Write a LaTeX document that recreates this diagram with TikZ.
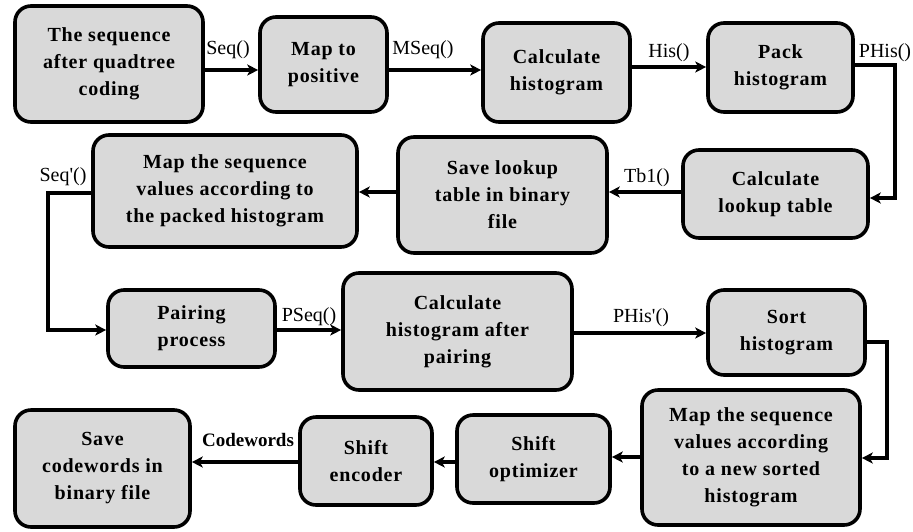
\documentclass[tikz,border=0pt]{standalone}
\usepackage{fontspec}
\setmainfont{Liberation Serif}
\newfontfamily\boxfont[LetterSpace=4,BoldFont={Liberation Serif Bold}]{Liberation Serif}
\usetikzlibrary{arrows.meta}
\definecolor{boxgray}{RGB}{217,217,217}
\begin{document}
\begin{tikzpicture}[x=1pt,y=-1pt,
  blk/.style={draw, line width=3.6pt, fill=boxgray, rounded corners=16pt, align=center,
    font=\boxfont\bfseries\fontsize{20}{27}\selectfont, inner sep=0pt},
  arr/.style={line width=3.2pt, -{Stealth[length=11pt,width=11pt,inset=3pt]}},
  lbl/.style={font=\fontsize{20}{22}\selectfont, inner sep=0pt}]
\path[use as bounding box] (0,0) rectangle (913,531);
% boxes
\node[blk, minimum width=188pt, minimum height=116pt] (b1) at (109,64) {The sequence\\after quadtree\\coding};
\node[blk, minimum width=127pt, minimum height=95pt] (b2) at (323.5,64.5) {Map to\\positive};
\node[blk, minimum width=147pt, minimum height=99pt] (b3) at (556.5,72.5) {Calculate\\histogram};
\node[blk, minimum width=145pt, minimum height=89pt] (b4) at (780.5,67.5) {Pack\\histogram};
\node[blk, minimum width=185pt, minimum height=88pt] (b5) at (775.5,194) {Calculate\\lookup table};
\node[blk, minimum width=209pt, minimum height=116pt] (b6) at (502.5,195) {Save lookup\\table in binary\\file};
\node[blk, minimum width=264pt, minimum height=112pt] (b7) at (225,191) {Map the sequence\\values according to\\the packed histogram};
\node[blk, minimum width=167pt, minimum height=77pt] (b8) at (191.5,328.5) {Pairing\\process};
\node[blk, minimum width=229pt, minimum height=117pt] (b9) at (457.5,331.5) {Calculate\\histogram after\\pairing};
\node[blk, minimum width=157pt, minimum height=85pt] (b10) at (786.5,332.5) {Sort\\histogram};
\node[blk, minimum width=218pt, minimum height=135pt] (b11) at (751,457.5) {Map the sequence\\values according\\to a new sorted\\histogram};
\node[blk, minimum width=153pt, minimum height=88pt] (b12) at (533.5,459) {Shift\\optimizer};
\node[blk, minimum width=132pt, minimum height=88pt] (b13) at (366,461) {Shift\\encoder};
\node[blk, minimum width=175pt, minimum height=117pt] (b14) at (102.5,468.5) {Save\\codewords in\\binary file};
% turning points
\coordinate (r1) at (895,198);
\coordinate (l1) at (48,330);
\coordinate (r2) at (887,458);
% connectors
\draw[arr] (b1.east |- 0,70) -- (b2.west |- 0,70);
\draw[arr] (b2.east |- 0,70) -- (b3.west |- 0,70);
\draw[arr] (b3.east |- 0,67) -- (b4.west |- 0,67);
\draw[arr] (b4.east |- 0,65) -| (r1) -- (b5.east |- r1);
\draw[arr] (b5.west |- 0,192) -- (b6.east |- 0,192);
\draw[arr] (b6.west |- 0,192) -- (b7.east |- 0,192);
\draw[arr] (b7.west |- 0,193) -| (l1) -- (b8.west |- l1);
\draw[arr] (b8.east |- 0,330) -- (b9.west |- 0,330);
\draw[arr] (b9.east |- 0,333) -- (b10.west |- 0,333);
\draw[arr] (b10.east |- 0,342) -| (r2) -- (b11.east |- r2);
\draw[arr] (b11.west |- 0,457) -- (b12.east |- 0,457);
\draw[arr] (b12.west |- 0,462) -- (b13.east |- 0,462);
\draw[arr] (b13.west |- 0,462) -- (b14.east |- 0,462);
% labels
\node[lbl] (t1) at (228,50) {Seq()};
\node[lbl] (t2) at (423,50) {MSeq()};
\node[lbl] (t3) at (669,53) {His()};
\node[lbl] (t4) at (885,53) {PHis()};
\node[lbl] (t5) at (647,178) {Tb1()};
\node[lbl] (t6) at (63,177) {Seq\textquotesingle()};
\node[lbl] (t7) at (309,317) {PSeq()};
\node[lbl] (t8) at (641,318) {PHis\textquotesingle()};
\node[lbl, font=\bfseries\fontsize{19}{22}\selectfont] (t9) at (248,440) {Codewords};
\end{tikzpicture}
\end{document}
